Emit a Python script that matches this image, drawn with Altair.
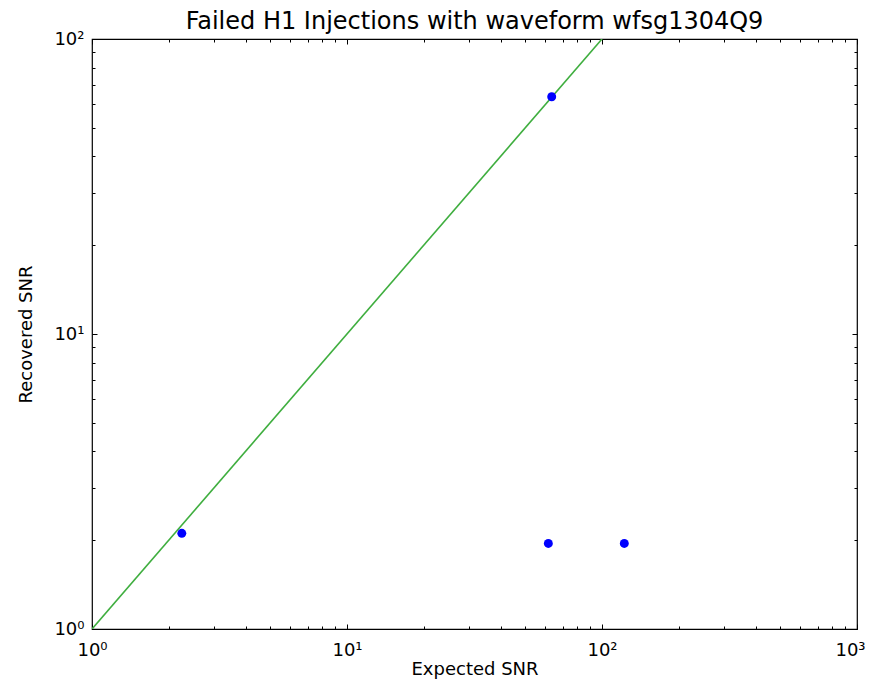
import altair as alt
import pandas as pd

# Data
expected_snr = [2.25, 63.5, 61.6, 122.3]
recovered_snr = [2.11, 63.7, 1.95, 1.95]
line_snr = [1, 100]

x_major = [1, 10, 100, 1000]
y_major = [1, 10, 100]
x_minor = [2, 3, 4, 5, 6, 7, 8, 9, 20, 30, 40, 50, 60, 70, 80, 90, 200, 300, 400, 500, 600, 700, 800, 900]
y_minor = [2, 3, 4, 5, 6, 7, 8, 9, 20, 30, 40, 50, 60, 70, 80, 90]

pts = pd.DataFrame({"expected": expected_snr, "recovered": recovered_snr})
line_df = pd.DataFrame({"snr": line_snr})

FONT = "DejaVu Sans"
label_expr = ("datum.value == 1 ? '10\u2070' : datum.value == 10 ? '10\u00b9' : "
              "datum.value == 100 ? '10\u00b2' : '10\u00b3'")

xs = alt.Scale(type="log", domain=[1, 1000], nice=False)
ys = alt.Scale(type="log", domain=[1, 100], nice=False)

MAJ, MIN = 5, 3

def major_axis(orient, values, title, padding, title_padding, **extra):
    return alt.Axis(orient=orient, values=values, tickSize=MAJ, offset=-MAJ, domain=False,
                    grid=False, tickColor="black", tickWidth=1, labels=True,
                    labelExpr=label_expr, labelFont=FONT, labelFontSize=18, labelColor="black",
                    labelPadding=padding, labelFlush=False, labelOverlap=False,
                    title=title, titleFont=FONT, titleFontSize=18,
                    titleFontWeight="normal", titleColor="black", titlePadding=title_padding,
                    **extra)

def bare_axis(orient, values, size):
    return alt.Axis(orient=orient, values=values, tickSize=size, offset=-size, domain=False,
                    grid=False, tickColor="black", tickWidth=1, labels=False, title=None)

line = alt.Chart(line_df).mark_line(color="#3fae3f", strokeWidth=1.6, clip=True).encode(
    x=alt.X("snr:Q", scale=xs, axis=major_axis(
        "bottom", x_major, "Expected SNR", 12, 1,
        labelOffset={"condition": {"test": "datum.value >= 1000", "value": -7}, "value": 0})),
    y=alt.Y("snr:Q", scale=ys, axis=major_axis("left", y_major, "Recovered SNR", 8, 18)),
)

points = alt.Chart(pts).mark_circle(color="#0000ff", size=80, opacity=1).encode(
    x=alt.X("expected:Q", scale=xs, axis=bare_axis("bottom", x_minor, MIN)),
    y=alt.Y("recovered:Q", scale=ys, axis=bare_axis("left", y_minor, MIN)),
)

frame_major = alt.Chart(pts).mark_circle(opacity=0).encode(
    x=alt.X("expected:Q", scale=xs, axis=bare_axis("top", x_major, MAJ)),
    y=alt.Y("recovered:Q", scale=ys, axis=bare_axis("right", y_major, MAJ)),
)

frame_minor = alt.Chart(pts).mark_circle(opacity=0).encode(
    x=alt.X("expected:Q", scale=xs, axis=bare_axis("top", x_minor, MIN)),
    y=alt.Y("recovered:Q", scale=ys, axis=bare_axis("right", y_minor, MIN)),
)

chart = (
    alt.layer(frame_major, frame_minor, line, points)
    .resolve_axis(x="independent", y="independent")
    .properties(
        width=765,
        height=590,
        title=alt.TitleParams("Failed H1 Injections with waveform wfsg1304Q9", font=FONT,
                              fontSize=24, fontWeight="normal", color="black", offset=-4),
        padding={"left": 84, "top": 31, "right": 11, "bottom": 50},
        autosize=alt.AutoSizeParams(type="none"),
        background="white",
    )
    .configure_view(stroke="black", strokeWidth=1.2)
)

chart.save("out.html", embed_options={"renderer": "svg", "actions": False})
